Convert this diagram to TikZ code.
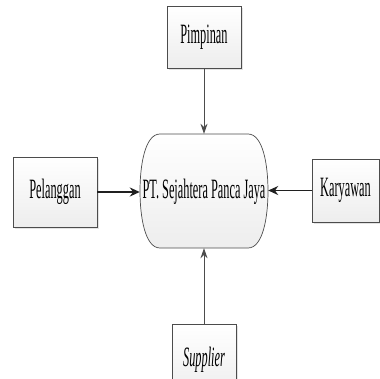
\documentclass[tikz,border=0pt]{standalone}
\usepackage{fontspec}
\setmainfont{Liberation Serif}
\newfontfamily\cond[FakeStretch=0.44]{Liberation Serif}
\usetikzlibrary{shadows,arrows.meta}
\begin{document}
\begin{tikzpicture}[x=1pt,y=-1pt,
  ent/.style={draw=gray!60!black, line width=0.7pt, top color=white, bottom color=gray!14,
    drop shadow={shadow xshift=2pt, shadow yshift=-2pt, fill=gray!22, opacity=1},
    font=\cond\fontsize{28}{28}\selectfont, inner sep=0pt},
  lbl/.style={font=\cond\fontsize{28}{28}\selectfont, inner sep=0pt},
  thin/.style={draw=gray!60!black, line width=0.9pt, -{Stealth[length=10pt,width=7pt]}},
  thick/.style={draw=gray!25!black, line width=1.9pt, -{Stealth[length=10pt,width=9pt]}}]
\useasboundingbox (0,0) rectangle (380,378);
\node[ent, minimum width=74pt, minimum height=62pt] (pim) at (204,37) {Pimpinan};
\node[ent, minimum width=84pt, minimum height=70pt] (pel) at (55,192) {Pelanggan};
\node[ent, minimum width=67pt, minimum height=63pt] (kar) at (345.5,190.5) {Karyawan};
\node[ent, minimum width=64pt, minimum height=72pt] (sup) at (204,360) {\itshape Supplier};
\node[minimum width=128pt, minimum height=114pt, inner sep=0pt] (pt) at (204,191) {};
\draw[draw=gray!60!black, line width=0.7pt, top color=white, bottom color=gray!14]
  (160,134) -- (248,134) .. controls (263,134) and (268,165) .. (268,191)
  .. controls (268,217) and (263,248) .. (248,248) -- (160,248)
  .. controls (145,248) and (140,217) .. (140,191)
  .. controls (140,165) and (145,134) .. (160,134) -- cycle;
\node[lbl] at ([yshift=-1pt]pt.center) {PT. Sejahtera Panca Jaya};
\draw[thin] (pim.south) -- (pt.north);
\draw[thin] (sup.north) -- (pt.south);
\draw[thick] (pel.east) -- (pel.east -| pt.west);
\draw[thick] (kar.west) -- (kar.west -| pt.east);
\end{tikzpicture}
\end{document}
